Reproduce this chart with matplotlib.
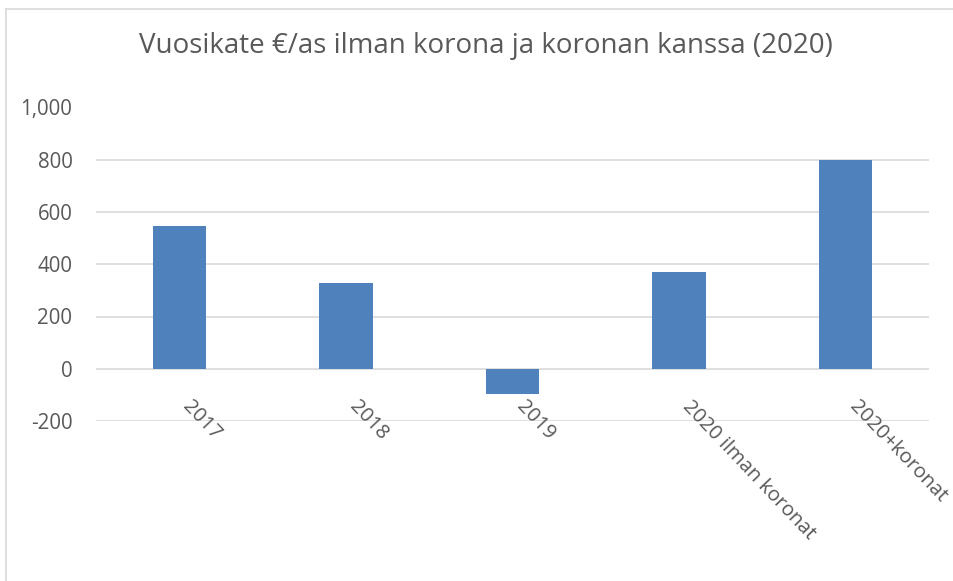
import matplotlib.pyplot as plt
from matplotlib.lines import Line2D
from matplotlib.ticker import FuncFormatter
from matplotlib.transforms import ScaledTranslation

categories = ["2017", "2018", "2019", "2020 ilman koronat", "2020+koronat"]
vuosikate = [545, 328, -95, 370, 800]
title = "Vuosikate €/as ilman korona ja koronan kanssa (2020)"

W, H = 954, 581
DPI = 100
grey = "#595959"

plt.rcParams["font.family"] = ["Open Sans", "DejaVu Sans"]

fig = plt.figure(figsize=(W / DPI, H / DPI), dpi=DPI)
ax = fig.add_axes([96 / W, 1 - 421 / H, (929 - 96) / W, (421 - 107.5) / H])

x = list(range(len(categories)))
ax.bar(x, vuosikate, width=0.32, color="#4f81bd", zorder=3)

ax.set_xlim(-0.5, len(categories) - 0.5)
ax.set_ylim(-200, 1000)
ax.set_yticks(range(-200, 1001, 200))
ax.yaxis.set_major_formatter(FuncFormatter(lambda v, p: f"{int(v):,}"))
ax.grid(axis="y", color="#d9d9d9", linewidth=1.2, zorder=0)
ax.tick_params(axis="y", length=0, pad=17, labelsize=14.8, labelcolor=grey)
ax.set_xticks([])
for s in ax.spines.values():
    s.set_visible(False)

# category labels sit under the zero line, rotated down-right
off = ScaledTranslation(14 / DPI, -28 / DPI, fig.dpi_scale_trans)
for xi, lab in zip(x, categories):
    ax.text(xi, 0, lab, transform=ax.transData + off, rotation=-46.5,
            rotation_mode="anchor", ha="left", va="top", fontsize=14.6, color=grey)

fig.text(486 / W, 1 - 53 / H, title, ha="center", va="baseline",
         fontsize=20, color=grey)

# chart area border (left and top edges visible in the crop)
fig.add_artist(Line2D([6 / W, 6 / W], [0, 1 - 9 / H], transform=fig.transFigure,
                      color="#d9d9d9", linewidth=1.2))
fig.add_artist(Line2D([6 / W, 1], [1 - 9 / H, 1 - 9 / H], transform=fig.transFigure,
                      color="#d9d9d9", linewidth=1.2))

fig.savefig("out.png", dpi=DPI)
